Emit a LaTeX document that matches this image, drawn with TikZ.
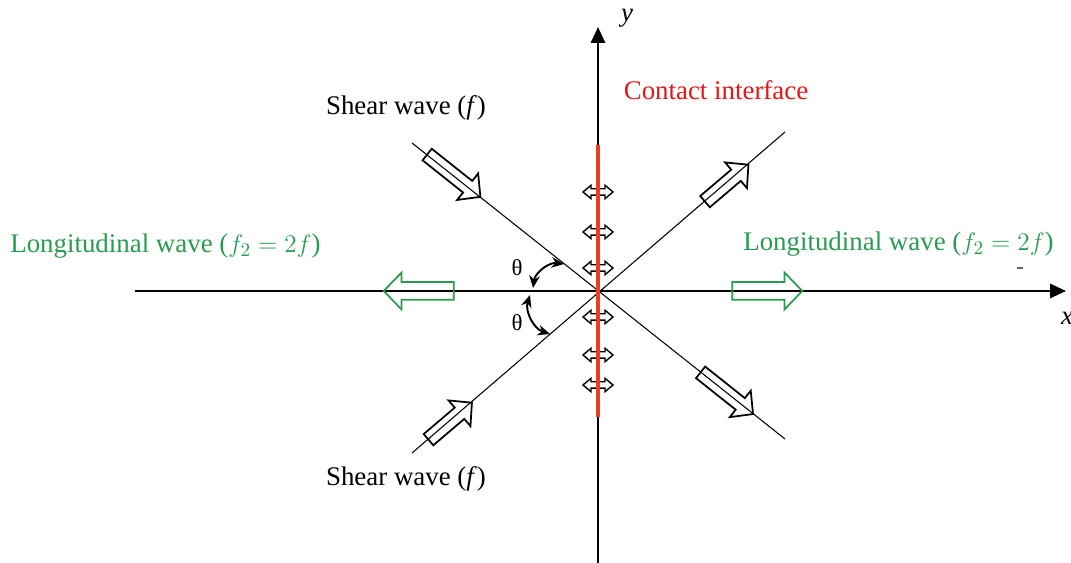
\documentclass[tikz,border=0pt]{standalone}
\usepackage{fontspec}
\setmainfont{Liberation Serif}
\usetikzlibrary{arrows.meta,shapes.arrows}
\definecolor{wgreen}{RGB}{40,155,80}
\definecolor{ired}{RGB}{228,22,22}
\definecolor{lred}{RGB}{236,62,32}
\begin{document}
\begin{tikzpicture}[x=0.02cm,y=0.02cm,
  lbl/.style={font=\fontsize{15.3}{18}\selectfont, inner sep=0pt},
  axis/.style={line width=1.4pt, -{Triangle[length=9pt,width=8pt]}},
  diag/.style={line width=0.6pt},
  shear/.style={single arrow, draw=black, line width=1pt, inner xsep=0pt,
    inner ysep=0.13cm, single arrow head extend=0.19cm,
    single arrow tip angle=92},
  longi/.style={single arrow, draw=wgreen, line width=1pt, inner xsep=0pt,
    inner ysep=0.16cm, minimum height=1.4cm, single arrow head extend=0.19cm,
    single arrow tip angle=92},
  dbl/.style={double arrow, draw=black, line width=0.8pt, inner xsep=0pt,
    inner ysep=0.05cm, minimum height=0.6cm, double arrow head extend=0.07cm,
    double arrow tip angle=80},
  ang/.style={line width=1.1pt, {Stealth[length=7pt,width=6pt]}-{Stealth[length=7pt,width=6pt]}}
]
\useasboundingbox (0,0) rectangle (1071,563);
% axes
\coordinate (O) at (598,272);
\coordinate (xs) at (135,272);
\coordinate (xe) at (1066,272);
\coordinate (ys) at (598,0);
\coordinate (ye) at (598,536);
\draw[axis] (xs) -- (xe);
\draw[axis] (ys) -- (ye);
\node[lbl, font=\fontsize{15.3}{18}\selectfont\itshape] (ylab) at (627,545) {y};
\node[lbl, font=\fontsize{15.3}{18}\selectfont\itshape] (xlab) at (1067,245) {x};
% diagonals
\coordinate (d1a) at (412,420);
\coordinate (d1b) at (785,124);
\coordinate (d2a) at (412,110);
\coordinate (d2b) at (785,431);
\draw[diag] (d1a) -- (d1b);
\draw[diag] (d2a) -- (d2b);
% small double arrows
\foreach \yy [count=\i] in {371,331,295,246,208,178}
  \node[dbl] (s\i) at (598,\yy) {};
% contact interface
\coordinate (ca) at (598,418);
\coordinate (cb) at (598,146);
\draw[lred, line width=2.8pt] (ca) -- (cb);
% shear wave arrows
\node[shear, minimum height=1.36cm, rotate=-38.5] (sul) at (451,389.5) {};
\node[shear, minimum height=1.34cm, rotate=-38.5] (slr) at (724,172) {};
\node[shear, minimum height=1.14cm, rotate=40.4] (sur) at (724,377.5) {};
\node[shear, minimum height=1.14cm, rotate=40.4] (sll) at (447.5,139.5) {};
% longitudinal arrows
\node[longi, rotate=180] (gl) at (423,272) {};
\node[longi] (gr) at (763,272) {};
% angle arcs
\coordinate (a1) at (533,275);
\coordinate (a2) at (564,299);
\coordinate (b1) at (530,268);
\coordinate (b2) at (550,229);
\draw[ang] (a1) to[bend left=45] (a2);
\draw[ang] (b1) to[bend right=45] (b2);
\node[font=\fontsize{13}{15}\selectfont, inner sep=0pt] (th1) at (517,295) {θ};
\node[font=\fontsize{13}{15}\selectfont, inner sep=0pt] (th2) at (517,240) {θ};
% labels
\node[lbl] (sw1) at (406,455) {Shear wave (\textit{f})};
\node[lbl] (sw2) at (406,84) {Shear wave (\textit{f})};
\node[lbl, text=ired] (ci) at (716,473) {Contact interface};
\node[lbl, text=wgreen, anchor=west] (lw1) at (10,317) {Longitudinal wave ($f_2 = 2f$)};
\node[lbl, text=wgreen, anchor=west] (lw2) at (743,319) {Longitudinal wave ($f_2 = 2f$)};
\coordinate (m1) at (1017,295);
\coordinate (m2) at (1023,295);
\draw[black!60, line width=0.6pt] (m1) -- (m2);
\end{tikzpicture}
\end{document}
